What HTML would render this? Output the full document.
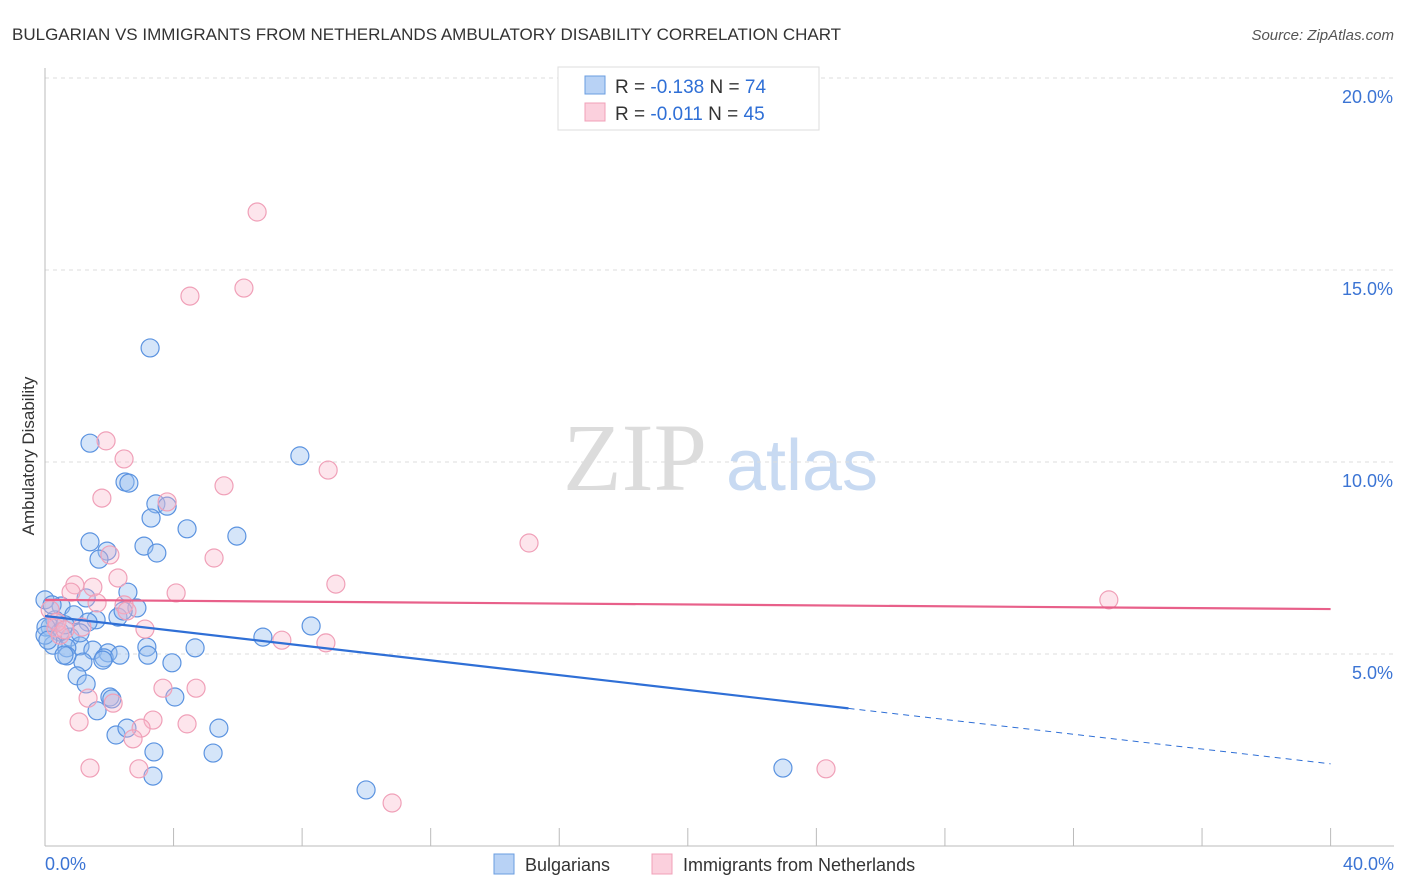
<!DOCTYPE html>
<html><head><meta charset="utf-8"><style>
body{margin:0;background:#fff;font-family:"Liberation Sans",sans-serif}
svg{display:block}
</style></head><body>
<svg width="1406" height="892" id="chart">
<text x="12" y="40" font-size="17" fill="#333">BULGARIAN VS IMMIGRANTS FROM NETHERLANDS AMBULATORY DISABILITY CORRELATION CHART</text>
<text x="1394" y="40" font-size="15" fill="#555" font-style="italic" text-anchor="end">Source: ZipAtlas.com</text>
<g>
<text x="635" y="490" font-size="96" fill="#dcdcdc" text-anchor="middle" font-family="Liberation Serif,serif">ZIP</text>
<text x="802" y="490" font-size="72" fill="#c8daf2" text-anchor="middle">atlas</text>
</g>
<g id="grid"></g>
<g id="axes"></g>
<g id="marks"></g>
<text transform="translate(34,456) rotate(-90)" font-size="17" fill="#333" text-anchor="middle">Ambulatory Disability</text>
<g>
<rect x="558" y="67" width="261" height="63" fill="#fff" stroke="#ddd"/>
<rect x="585" y="76" width="20" height="18" fill="#b8d2f5" stroke="#6a9de0"/>
<rect x="585" y="103" width="20" height="18" fill="#fbd0dd" stroke="#f0a0b8"/>
<text x="615" y="93" font-size="19" fill="#333">R = <tspan fill="#2f6fd6">-0.138</tspan>   N = <tspan fill="#2f6fd6">74</tspan></text>
<text x="615" y="120" font-size="19" fill="#333">R = <tspan fill="#2f6fd6">-0.011</tspan>   N = <tspan fill="#2f6fd6">45</tspan></text>
</g>
<g>
<rect x="494" y="854" width="20" height="20" fill="#b8d2f5" stroke="#6a9de0"/>
<text x="525" y="871" font-size="18" fill="#333">Bulgarians</text>
<rect x="652" y="854" width="20" height="20" fill="#fbd0dd" stroke="#f0a0b8"/>
<text x="683" y="871" font-size="18" fill="#333">Immigrants from Netherlands</text>
</g>
</svg>
<script>
const blueX=[3.27,1.40,7.93,2.49,2.61,3.45,3.80,3.30,4.42,5.97,1.40,1.93,3.08,3.48,1.68,2.58,1.28,0.50,2.86,2.27,2.43,1.59,0.90,0.31,0.16,0.47,0.03,0.78,0.25,1.09,0.68,1.49,1.96,1.84,2.33,1.18,0.68,6.78,8.28,3.17,3.20,4.67,3.95,1.00,1.28,2.02,2.08,4.04,1.62,2.21,2.55,5.41,3.39,5.23,3.36,9.99,22.96,0.0,0.22,0.0,0.62,1.80,0.59,0.09,1.34,1.09];
const blueY=[12.97,10.49,10.16,9.48,9.45,8.91,8.85,8.54,8.26,8.07,7.92,7.68,7.81,7.63,7.47,6.61,6.46,6.25,6.20,5.96,6.12,5.89,6.02,5.89,5.70,5.57,5.70,5.44,5.23,5.21,5.16,5.10,5.03,4.90,4.97,4.79,4.95,5.44,5.73,5.18,4.97,5.16,4.77,4.43,4.22,3.88,3.83,3.88,3.52,2.89,3.07,3.07,2.45,2.42,1.82,1.46,2.03,6.41,6.28,5.49,5.76,4.84,4.97,5.36,5.83,5.55];
const pinkX=[6.60,4.51,6.19,1.90,2.46,1.77,3.80,5.57,8.81,15.06,2.02,5.26,2.27,0.93,1.49,0.81,4.08,9.05,33.1,1.62,2.46,2.55,1.15,3.11,0.34,0.47,7.37,8.74,3.67,4.70,1.34,2.12,1.06,3.36,2.99,4.42,2.74,1.40,2.92,24.3,10.8,0.16,0.37,0.62];
const pinkY=[16.51,14.32,14.53,10.55,10.08,9.06,8.96,9.38,9.79,7.89,7.58,7.50,6.98,6.80,6.74,6.61,6.59,6.82,6.41,6.33,6.28,6.12,5.70,5.65,5.68,5.49,5.36,5.29,4.11,4.11,3.85,3.72,3.23,3.28,3.07,3.18,2.79,2.03,2.01,2.01,1.12,6.15,5.83,5.63];
const blueTrend=[5.99,2.14];
const pinkTrend=[6.41,6.17];
const blueSolidEnd=25;
const yTicks=[5,10,15,20];
const xTicks=[0,4,8,12,16,20,24,28,32,36,40];
const NS='http://www.w3.org/2000/svg';
const sx=v=>45+v*32.14, sy=v=>846-v*38.4;
function mk(t,a,p){const e=document.createElementNS(NS,t);for(const k in a)e.setAttribute(k,a[k]);document.getElementById(p).appendChild(e);return e;}
yTicks.forEach(v=>{
 const g=mk('line',{x1:45,x2:1394,y1:sy(v),y2:sy(v),stroke:'#ddd','stroke-dasharray':'4,4'},'grid');
 
 
 const t=mk('text',{x:1393,y:sy(v)+25,'font-size':18,fill:'#3b74d4','text-anchor':'end'},'axes');
 t.textContent=v.toFixed(1)+'%';
 
 
});
mk('line',{x1:45,x2:45,y1:68,y2:846,stroke:'#bbb'},'axes');
mk('line',{x1:45,x2:1394,y1:846,y2:846,stroke:'#bbb'},'axes');
xTicks.forEach(v=>{
 const l=mk('line',{x1:sx(v),x2:sx(v),y1:828,y2:846,stroke:'#bbb'},'axes');
 
 
});
[[0,'start',45],[40,'end',1394]].forEach(([v,a,x])=>{
 const t=mk('text',{x:x,y:870,'font-size':18,fill:'#3b74d4','text-anchor':a},'axes');
 t.textContent=v.toFixed(1)+'%';
 
 
});
blueX.forEach((x,i)=>{
 const c=mk('circle',{cx:sx(x),cy:sy(blueY[i]),r:9,fill:'rgba(150,190,240,0.4)',stroke:'#5b93e0','stroke-width':1.2},'marks');
 
 
});
pinkX.forEach((x,i)=>{
 const c=mk('circle',{cx:sx(x),cy:sy(pinkY[i]),r:9,fill:'rgba(248,180,200,0.35)',stroke:'#f0a0b8','stroke-width':1.2},'marks');
 
 
});
const by=v=>blueTrend[0]+(blueTrend[1]-blueTrend[0])*v/40;
let l=mk('line',{x1:sx(0),y1:sy(by(0)),x2:sx(blueSolidEnd),y2:sy(by(blueSolidEnd)),stroke:'#2f6fd6','stroke-width':2.2},'marks');


l=mk('line',{x1:sx(blueSolidEnd),y1:sy(by(blueSolidEnd)),x2:sx(40),y2:sy(by(40)),stroke:'#2f6fd6','stroke-width':1,'stroke-dasharray':'6,5'},'marks');


l=mk('line',{x1:sx(0),y1:sy(pinkTrend[0]),x2:sx(40),y2:sy(pinkTrend[1]),stroke:'#e8608a','stroke-width':2.2},'marks');


</script>
</body></html>
